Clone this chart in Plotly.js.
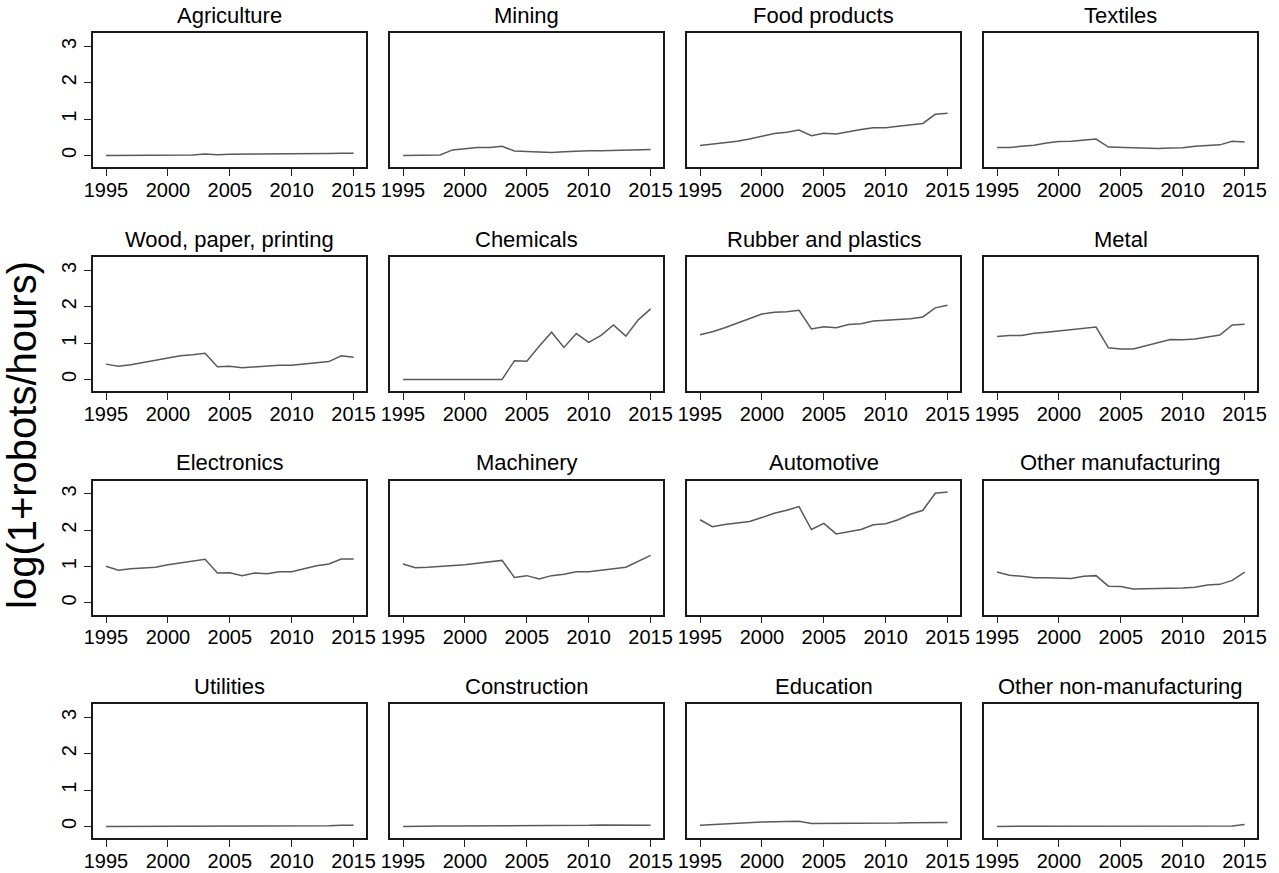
<!DOCTYPE html>
<html>
<head>
<meta charset="utf-8">
<script src="https://cdn.plot.ly/plotly-3.0.1.min.js"></script>
<style>html,body{margin:0;padding:0;background:#fff;}#chart{width:1279px;height:873px;}</style>
</head>
<body>
<div id="chart"></div>
<script>
const years = [1995,1996,1997,1998,1999,2000,2001,2002,2003,2004,2005,2006,2007,2008,2009,2010,2011,2012,2013,2014,2015];

const panelTitles = ["Agriculture","Mining","Food products","Textiles",
  "Wood, paper, printing","Chemicals","Rubber and plastics","Metal",
  "Electronics","Machinery","Automotive","Other manufacturing",
  "Utilities","Construction","Education","Other non-manufacturing"];

const agriculture = [0,0,0,0,0,0,0,0.01,0.04,0.02,0.03,0.03,0.03,0.03,0.04,0.04,0.04,0.04,0.05,0.06,0.06];
const mining = [0,0,0,0.01,0.15,0.18,0.22,0.22,0.25,0.12,0.10,0.08,0.08,0.10,0.12,0.13,0.13,0.14,0.15,0.17,0.16];
const foodProducts = [0.27,0.31,0.34,0.39,0.45,0.53,0.60,0.64,0.70,0.54,0.61,0.59,0.66,0.71,0.76,0.76,0.80,0.84,0.88,1.13,1.16];
const textiles = [0.22,0.22,0.25,0.28,0.34,0.38,0.39,0.42,0.45,0.23,0.22,0.19,0.19,0.19,0.20,0.21,0.25,0.26,0.29,0.39,0.37];
const woodPaper = [0.42,0.36,0.40,0.46,0.53,0.60,0.65,0.68,0.72,0.35,0.36,0.32,0.35,0.36,0.39,0.39,0.42,0.45,0.49,0.65,0.61];
const chemicals = [0,0,0,0,0,0,0,0,0,0.51,0.50,0.91,1.30,0.88,1.26,1.02,1.21,1.50,1.19,1.64,1.94];
const rubberPlastics = [1.23,1.31,1.42,1.54,1.68,1.80,1.85,1.86,1.90,1.39,1.45,1.42,1.51,1.53,1.61,1.63,1.63,1.67,1.72,1.97,2.04];
const metal = [1.18,1.21,1.21,1.27,1.30,1.34,1.38,1.41,1.44,0.87,0.84,0.84,0.93,1.02,1.10,1.09,1.11,1.17,1.22,1.50,1.52];
const electronics = [1.01,0.90,0.94,0.95,0.98,1.05,1.10,1.17,1.20,0.82,0.83,0.75,0.82,0.80,0.86,0.86,0.94,1.02,1.07,1.21,1.21];
const machinery = [1.07,0.97,0.98,1.00,1.02,1.05,1.09,1.12,1.17,0.70,0.75,0.66,0.75,0.79,0.86,0.86,0.91,0.94,0.98,1.15,1.31];
const automotive = [2.29,2.10,2.16,2.19,2.24,2.35,2.47,2.55,2.65,2.02,2.19,1.90,1.97,2.02,2.15,2.18,2.29,2.44,2.55,3.02,3.05];
const otherManufacturing = [0.85,0.76,0.73,0.69,0.69,0.69,0.67,0.73,0.75,0.46,0.45,0.38,0.38,0.38,0.40,0.41,0.43,0.49,0.51,0.62,0.85];
const utilities = [0,0,0,0,0,0,0.01,0.02,0.02,0.01,0.01,0.01,0.01,0.01,0.01,0.01,0.01,0.02,0.02,0.03,0.03];
const construction = [0,0.01,0.01,0.01,0.01,0.01,0.01,0.01,0.01,0.01,0.01,0.01,0.01,0.01,0.02,0.03,0.04,0.04,0.04,0.04,0.03];
const education = [0.03,0.05,0.08,0.10,0.11,0.12,0.13,0.13,0.14,0.08,0.08,0.07,0.07,0.07,0.08,0.08,0.09,0.10,0.10,0.11,0.11];
const otherNonManufacturing = [0,0,0,0,0,0,0,0,0,0,0,0,0,0,0,0,0,0,0,0.01,0.05];

const series = [agriculture, mining, foodProducts, textiles, woodPaper, chemicals, rubberPlastics, metal,
  electronics, machinery, automotive, otherManufacturing, utilities, construction, education, otherNonManufacturing];

const xTickVals = [1995, 2000, 2005, 2010, 2015];
const yTickVals = [0, 1, 2, 3];
const yAxisLabel = "log(1+robots/hours)";

const W = 1279, H = 873;
const colLeft = [93, 390, 687, 984];
const panelW = 273;
const rowTop = [33, 257, 480.5, 704];
const panelH = 134;

const FONT = "Liberation Sans, Arial, sans-serif";
const data = [];
const layout = {
  width: W, height: H,
  margin: {l: 0, r: 0, t: 0, b: 0},
  paper_bgcolor: "#fff", plot_bgcolor: "#fff",
  showlegend: false,
  font: {family: FONT, color: "#000", size: 20},
  annotations: []
};

for (let i = 0; i < 16; i++) {
  const r = Math.floor(i / 4), c = i % 4;
  const sfx = i === 0 ? "" : String(i + 1);
  data.push({
    x: years, y: series[i], type: "scatter", mode: "lines",
    line: {color: "#5a5a5a", width: 1.5},
    xaxis: "x" + sfx, yaxis: "y" + sfx, hoverinfo: "x+y"
  });
  const x0 = colLeft[c] / W, x1 = (colLeft[c] + panelW) / W;
  const y1 = 1 - rowTop[r] / H, y0 = 1 - (rowTop[r] + panelH) / H;
  layout["xaxis" + sfx] = {
    domain: [x0, x1], anchor: "y" + sfx, range: [1993.95, 2016.0],
    tickmode: "array", tickvals: xTickVals, ticks: "outside", ticklen: 7, tickwidth: 1.3,
    tickcolor: "#222", showline: true, linecolor: "#1a1a1a", linewidth: 1.5, mirror: true,
    showgrid: false, zeroline: false, automargin: false, ticklabelstandoff: -3,
    tickfont: {family: FONT, size: 20, color: "#000"}
  };
  layout["yaxis" + sfx] = {
    domain: [y0, y1], anchor: "x" + sfx, range: [-0.32, 3.37],
    tickmode: "array", tickvals: yTickVals,
    ticks: c === 0 ? "outside" : "", ticklen: 7, tickwidth: 1.3, tickcolor: "#222",
    showticklabels: c === 0, tickangle: -90,
    showline: true, linecolor: "#1a1a1a", linewidth: 1.5, mirror: true,
    showgrid: false, zeroline: false, automargin: false,
    tickfont: {family: FONT, size: 20, color: "#000"}
  };
  layout.annotations.push({
    text: panelTitles[i], xref: "paper", yref: "paper",
    x: (x0 + x1) / 2, y: 1 - (rowTop[r] - 18) / H,
    xanchor: "center", yanchor: "middle", showarrow: false,
    font: {family: FONT, size: 22, color: "#000"}
  });
}

layout.annotations.push({
  text: yAxisLabel, xref: "paper", yref: "paper",
  x: 22 / W, y: 1 - 435 / H, xanchor: "center", yanchor: "middle",
  textangle: -90, showarrow: false,
  font: {family: FONT, size: 40, color: "#000"}
});

Plotly.newPlot("chart", data, layout, {displayModeBar: false, responsive: false});
</script>
</body>
</html>
